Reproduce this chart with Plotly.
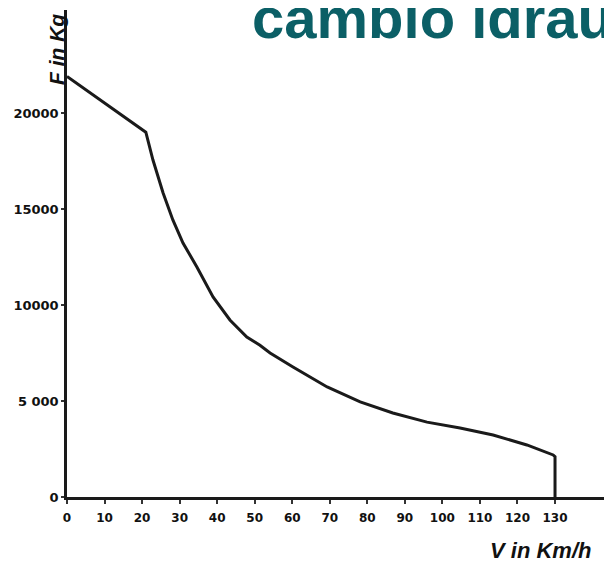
import plotly.graph_objects as go

# Data (tractive effort vs speed)
speed_kmh = [0, 21, 22.9, 25.6, 28.2, 30.9, 34.6, 38.9, 43.4, 47.9, 51.4, 54.1,
             60.2, 69.3, 78.1, 86.8, 95.9, 104.7, 113.5, 122.5, 129.5, 130, 130]
force_kg = [21900, 19000, 17550, 15830, 14430, 13230, 11980, 10420, 9220, 8330, 7900, 7500,
            6770, 5730, 4950, 4375, 3900, 3590, 3230, 2710, 2190, 2100, 0]

x_ticks = [0, 10, 20, 30, 40, 50, 60, 70, 80, 90, 100, 110, 120, 130]
x_labels = ["0", "10", "20", "30", "40", "50", "60", "70", "80", "90", "100", "110", "120", "130"]
y_ticks = [0, 5000, 10000, 15000, 20000]
y_labels = ["0", "5 000", "10000", "15000", "20000"]

OFF = 8  # the page body has an 8px default margin
W, H = 612 - OFF, 567 - OFF
L, R, T, B = 67 - OFF, 0, 10 - OFF, 70

fig = go.Figure()
fig.add_trace(go.Scatter(
    x=speed_kmh, y=force_kg, mode="lines",
    line=dict(color="#1a1a1a", width=3),
    showlegend=False, hoverinfo="skip", cliponaxis=False,
))

PW, PH = W - L - R, H - T - B


def px(xpage):
    return (xpage - OFF - L) / PW


def py(ypage):
    return 1 - (ypage - OFF - T) / PH


fig.update_layout(
    width=W, height=H,
    margin=dict(l=L, r=R, t=T, b=B, pad=0),
    paper_bgcolor="white", plot_bgcolor="white",
    xaxis=dict(
        range=[0, PW / 3.754], showgrid=False, zeroline=False,
        showline=True, linecolor="#1a1a1a", linewidth=2.5,
        tickmode="array", tickvals=x_ticks, ticktext=x_labels,
        ticks="outside", ticklen=4, tickwidth=2, tickcolor="#333333",
        ticklabelstandoff=4,
        tickfont=dict(family="DejaVu Sans", size=12, color="#111111", weight="bold"),
        fixedrange=True,
    ),
    yaxis=dict(
        range=[0, PH / 96 * 5000], showgrid=False, zeroline=False,
        showline=True, linecolor="#1a1a1a", linewidth=2.5,
        tickmode="array", tickvals=y_ticks, ticktext=y_labels,
        ticks="outside", ticklen=3, tickwidth=2, tickcolor="#333333",
        tickfont=dict(family="DejaVu Sans", size=13, color="#111111", weight="bold"),
        fixedrange=True,
    ),
    annotations=[
        dict(text="cambio idraulico", xref="paper", yref="paper",
             x=px(250), y=py(40),
             xanchor="left", yanchor="bottom", showarrow=False,
             font=dict(family="Liberation Sans", size=58, color="#0b5f66", weight="bold"),
             yshift=-12),
        dict(text="<i><b>F in Kg</b></i>", xref="paper", yref="paper",
             x=px(56), y=py(50),
             xanchor="center", yanchor="middle", textangle=-90, showarrow=False,
             font=dict(family="Liberation Sans", size=21, color="#111111")),
        dict(text="<i><b>V in Km/h</b></i>", xref="paper", yref="paper",
             x=px(540), y=py(550),
             xanchor="center", yanchor="middle", showarrow=False,
             font=dict(family="Liberation Sans", size=22, color="#111111")),
    ],
)

fig.write_html("out.html")
